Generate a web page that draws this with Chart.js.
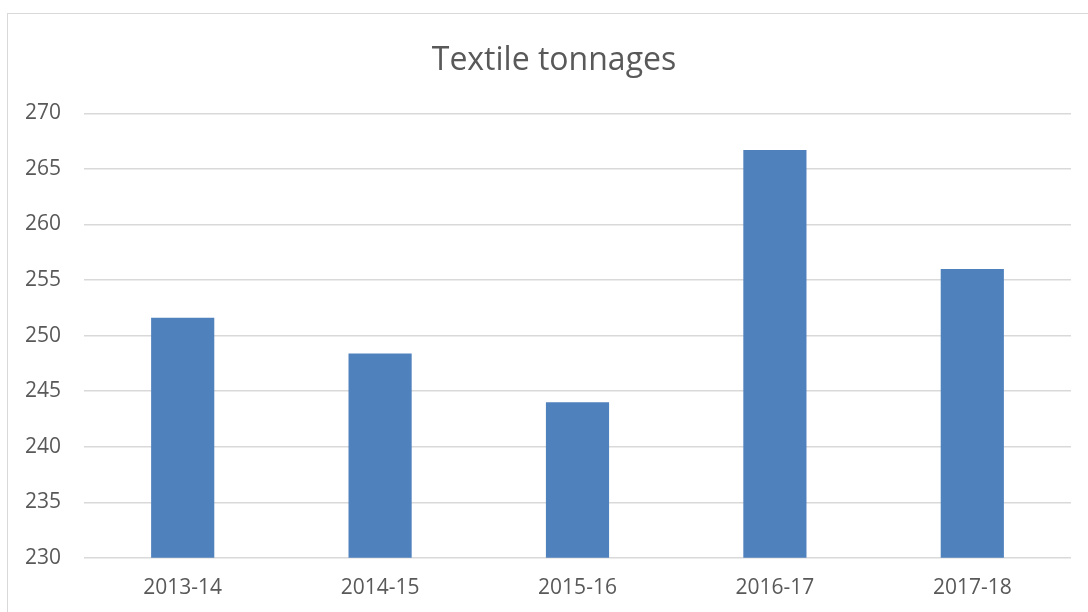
<!DOCTYPE html>
<html>
<head>
<meta charset="utf-8">
<script src="https://cdn.jsdelivr.net/npm/chart.js@4/dist/chart.umd.min.js"></script>
<style>
  html, body { margin: 0; padding: 0; background: #fff; overflow: hidden; width: 1088px; height: 612px; }
  #frame { position: absolute; left: 7px; top: 13px; width: 1100px; height: 620px; border: 1px solid #d9d9d9; box-sizing: border-box; }
  #chart { position: absolute; left: 0; top: 0; }
</style>
</head>
<body>
<div id="frame"><canvas id="chart" width="1098" height="618"></canvas></div>
<script>
const years = ['2013-14', '2014-15', '2015-16', '2016-17', '2017-18'];
const tonnages = [251.6, 248.4, 244.0, 266.7, 256.0];
const yMin = 230;
const yMax = 270;
const yStep = 5;

// the title in the original sits a bit right of the plot's centre
const titleNudge = {
    id: 'titleNudge',
    afterLayout(chart) {
        if (chart.titleBlock) chart.titleBlock.left += 29;
    }
};

const ctx = document.getElementById('chart').getContext('2d');
new Chart(ctx, {
    type: 'bar',
    data: {
        labels: years,
        datasets: [{
            label: 'Textile tonnages',
            data: tonnages,
            backgroundColor: '#4f81bd',
            borderWidth: 0,
            barPercentage: 0.32,
            categoryPercentage: 1
        }]
    },
    options: {
        responsive: false,
        devicePixelRatio: 1,
        animation: false,
        layout: { padding: { left: 0, right: 35, top: 28, bottom: 21 } },
        plugins: {
            legend: { display: false },
            tooltip: { enabled: false },
            title: {
                display: true,
                text: 'Textile tonnages',
                color: '#595959',
                font: { family: 'Open Sans', size: 32, weight: 'normal' },
                padding: { top: 0, bottom: 33 }
            }
        },
        scales: {
            x: {
                grid: { display: false },
                border: { display: false },
                ticks: { color: '#595959', font: { family: 'Open Sans', size: 21 }, padding: 10 }
            },
            y: {
                min: yMin,
                max: yMax,
                grid: { color: '#d9d9d9', lineWidth: 1.5, drawTicks: false },
                border: { display: false },
                ticks: { stepSize: yStep, color: '#595959', font: { family: 'Open Sans', size: 21 }, padding: 23 },
                afterFit: scale => { scale.width = 76; }
            }
        }
    },
    plugins: [titleNudge]
});
</script>
</body>
</html>
